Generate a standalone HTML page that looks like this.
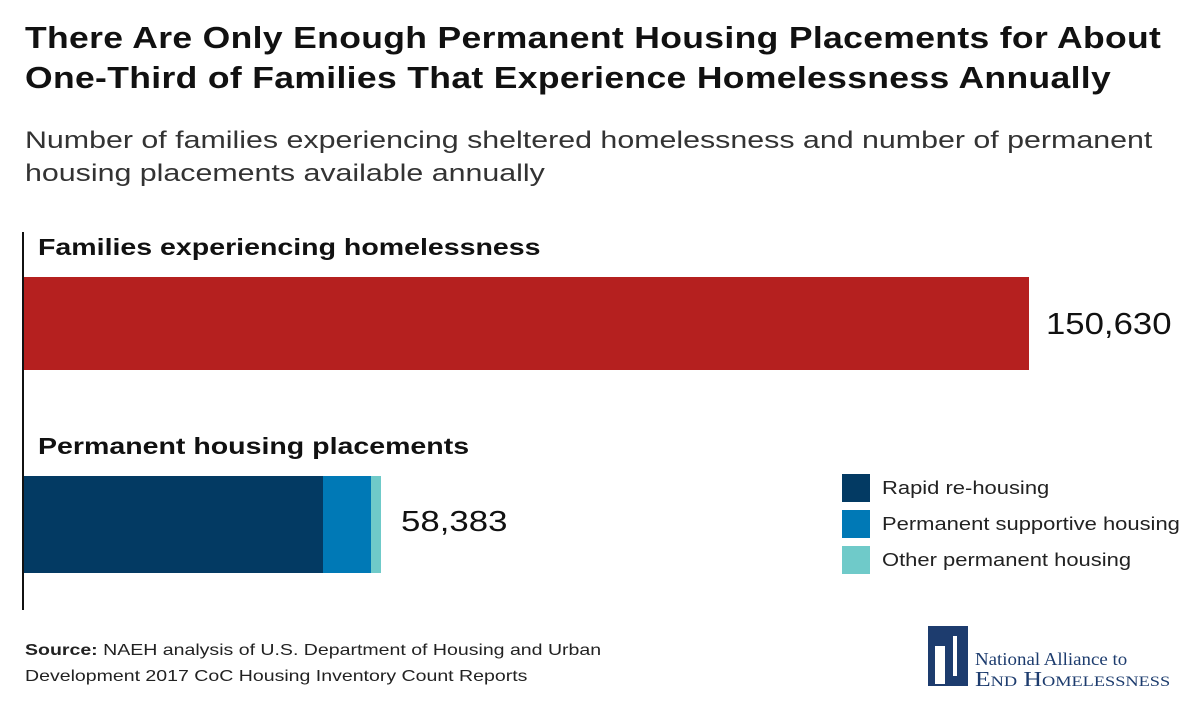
<!DOCTYPE html>
<html><head><style>
body{margin:0;width:1200px;height:717px;background:#fff;position:relative;font-family:"Liberation Sans",sans-serif;color:#111;overflow:hidden}
div{position:absolute;transform-origin:0 0;white-space:nowrap}
.t{left:25px;font-weight:bold;font-size:31px;letter-spacing:0.3px;transform:scaleX(1.145)}
.s{left:25px;font-size:24px;color:#333;transform:scaleX(1.265)}
.h{left:38px;font-weight:bold;font-size:23px;transform:scaleX(1.24)}
.lg{left:882px;font-size:18px;color:#222;transform:scaleX(1.22)}
.sw{left:842px;width:28px;height:28px}
</style></head><body>
<div class="t" style="top:20px">There Are Only Enough Permanent Housing Placements for About</div>
<div class="t" style="top:60px">One-Third of Families That Experience Homelessness Annually</div>
<div class="s" style="top:127px">Number of families experiencing sheltered homelessness and number of permanent</div>
<div class="s" style="top:160px">housing placements available annually</div>
<div style="left:22px;top:232px;width:2px;height:378px;background:#111"></div>
<div class="h" style="top:234px">Families experiencing homelessness</div>
<div style="left:24px;top:277px;width:1005px;height:93px;background:#b5201f"></div>
<div style="left:1046px;top:306px;font-size:31px;transform:scaleX(1.12)">150,630</div>
<div class="h" style="top:433px">Permanent housing placements</div>
<div style="left:24px;top:476px;width:299px;height:97px;background:#033a63"></div>
<div style="left:323px;top:476px;width:48px;height:97px;background:#0079b6"></div>
<div style="left:371px;top:476px;width:10px;height:97px;background:#6fcac9"></div>
<div style="left:401px;top:506px;font-size:29px;transform:scaleX(1.2)">58,383</div>
<div class="sw" style="top:474px;background:#033a63"></div>
<div class="lg" style="top:478px">Rapid re-housing</div>
<div class="sw" style="top:510px;background:#0079b6"></div>
<div class="lg" style="top:514px">Permanent supportive housing</div>
<div class="sw" style="top:546px;background:#6fcac9"></div>
<div class="lg" style="top:550px">Other permanent housing</div>
<div style="left:25px;top:638px;font-size:16px;color:#222;line-height:26px;transform:scaleX(1.22)"><b>Source:</b> NAEH analysis of U.S. Department of Housing and Urban<br>Development 2017 CoC Housing Inventory Count Reports</div>
<div style="left:928px;top:626px;width:40px;height:60px;background:#1d3c6e"></div>
<div style="left:935px;top:646px;width:10px;height:38px;background:#fff"></div>
<div style="left:953px;top:636px;width:4px;height:40px;background:#fff"></div>
<div style="left:975px;top:649px;font-family:'Liberation Serif',serif;font-size:18px;color:#1d3c6e;transform:scaleX(1.05)">National Alliance to</div>
<div style="left:975px;top:667px;font-family:'Liberation Serif',serif;font-size:21px;color:#1d3c6e;transform:scaleX(1.22)">E<span style="font-size:15px">ND</span> H<span style="font-size:15px">OMELESSNESS</span></div>
</body></html>
